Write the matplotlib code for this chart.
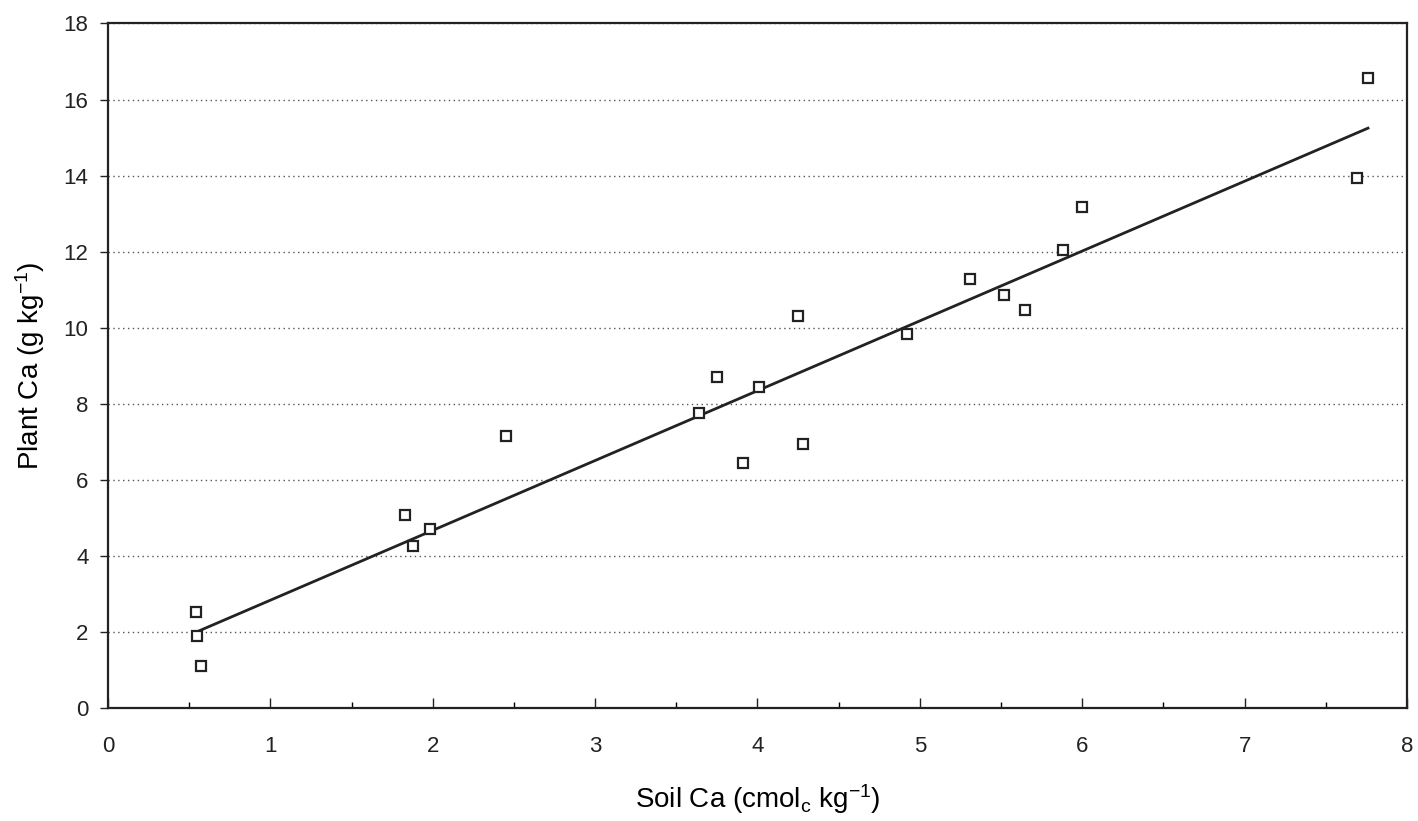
import numpy as np
import matplotlib
matplotlib.use("Agg")
import matplotlib.pyplot as plt
from matplotlib.ticker import MultipleLocator

plt.rcParams['font.family'] = ['Liberation Sans', 'DejaVu Sans']
plt.rcParams['mathtext.fontset'] = 'custom'
plt.rcParams['mathtext.rm'] = 'Liberation Sans'
plt.rcParams['mathtext.default'] = 'regular'

# data
soil_ca = [0.54, 0.55, 0.57, 1.83, 1.88, 1.985, 2.45, 3.64, 3.75, 3.91, 4.01,
           4.25, 4.28, 4.92, 5.31, 5.52, 5.65, 5.88, 6.00, 7.69, 7.76]
plant_ca = [2.52, 1.89, 1.10, 5.07, 4.27, 4.72, 7.16, 7.77, 8.70, 6.44, 8.45,
            10.31, 6.94, 9.83, 11.29, 10.85, 10.46, 12.04, 13.18, 13.94, 16.57]

# regression line
fit_slope = 1.836
fit_intercept = 1.0

fig = plt.figure(figsize=(14.18, 8.21), dpi=100)
ax = fig.add_axes([0.0762, 0.1376, 0.916, 0.8338])

ax.plot(soil_ca, plant_ca, linestyle='none', marker='s', markersize=7,
        markerfacecolor='white', markeredgecolor='#222222', markeredgewidth=1.6,
        zorder=3)

line_x = np.array([min(soil_ca), max(soil_ca)])
ax.plot(line_x, fit_slope * line_x + fit_intercept, color='#222222', lw=2, zorder=2)

ax.set_xlim(0, 8)
ax.set_ylim(0, 18)
ax.xaxis.set_major_locator(MultipleLocator(1))
ax.xaxis.set_minor_locator(MultipleLocator(0.5))
ax.yaxis.set_major_locator(MultipleLocator(2))

ax.grid(axis='y', which='major', linestyle=(0, (1, 2.5)), color='#555555', lw=1)
ax.set_axisbelow(True)

for s in ax.spines.values():
    s.set_linewidth(1.6)
    s.set_color('#222222')

ax.tick_params(axis='x', which='major', direction='in', length=7, width=1,
               pad=20, labelsize=16, colors='#222222')
ax.tick_params(axis='x', which='minor', direction='in', length=4, width=1)
ax.tick_params(axis='y', direction='out', length=6, width=1, pad=8,
               labelsize=16, colors='#222222')

ax.set_xlabel('Soil Ca (cmol$_c$ kg$^{-1}$)', fontsize=20, labelpad=18)
ax.set_ylabel('Plant Ca (g kg$^{-1}$)', fontsize=20, labelpad=12)

fig.savefig('out.png', dpi=100)
